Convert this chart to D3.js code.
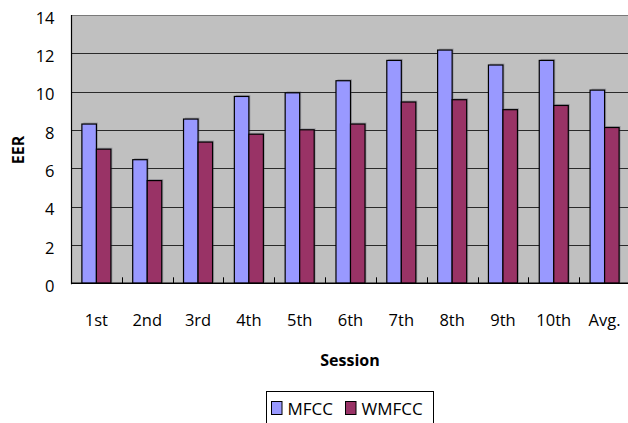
<!DOCTYPE html>
<html>
<head>
<meta charset="utf-8">
<script src="https://cdn.jsdelivr.net/npm/d3@7"></script>
<style>
  html, body { margin: 0; padding: 0; background: #fff; }
  svg { display: block; font-family: "Open Sans", "Noto Sans", sans-serif; }
</style>
</head>
<body>
<svg id="chart" width="628" height="423"></svg>
<script>
// EER per session for the two feature sets
const sessions = ["1st", "2nd", "3rd", "4th", "5th", "6th", "7th", "8th", "9th", "10th", "Avg."];
const mfcc  = [8.31, 6.45, 8.57, 9.75, 9.94, 10.57, 11.63, 12.17, 11.39, 11.63, 10.08];
const wmfcc = [7.0, 5.36, 7.37, 7.78, 8.01, 8.31, 9.46, 9.58, 9.06, 9.28, 8.13];
const seriesNames = ["MFCC", "WMFCC"];
const seriesColors = ["#9999FF", "#993366"];
const yTicks = [0, 2, 4, 6, 8, 10, 12, 14];

const svg = d3.select("#chart");
const plot = { left: 71, top: 15, right: 630, bottom: 283.3 };

const x = d3.scaleBand().domain(sessions).range([plot.left, plot.right]).padding(0);
const y = d3.scaleLinear().domain([0, 14]).range([plot.bottom, plot.top]);

// bar width with an Excel-style 150% gap between groups
const barW = x.bandwidth() / 3.5;
const groupOffset = barW * 0.75;

// plot area background
svg.append("rect")
  .attr("x", plot.left).attr("y", plot.top)
  .attr("width", plot.right - plot.left).attr("height", plot.bottom - plot.top)
  .attr("fill", "#C0C0C0");

// horizontal gridlines
svg.append("g").selectAll("line")
  .data(yTicks.filter(d => d > 0))
  .join("line")
  .attr("x1", plot.left).attr("x2", plot.right)
  .attr("y1", d => Math.round(y(d)) + 0.5).attr("y2", d => Math.round(y(d)) + 0.5)
  .attr("stroke", d => d === 14 ? "#7a7a7a" : "#2a2a2a")
  .attr("stroke-width", 1);

// bars
const rows = sessions.map((s, i) => ({ s, vals: [mfcc[i], wmfcc[i]] }));
const groups = svg.append("g").selectAll("g")
  .data(rows)
  .join("g")
  .attr("transform", d => `translate(${x(d.s) + groupOffset},0)`);

// faint drop shadow behind each bar
groups.selectAll("rect.shadow")
  .data(d => d.vals.map((v, k) => ({ v, k })))
  .join("rect")
  .attr("class", "shadow")
  .attr("x", d => d.k * barW + 1.5)
  .attr("y", d => y(d.v) - 1.5)
  .attr("width", barW)
  .attr("height", d => plot.bottom - y(d.v))
  .attr("fill", "rgba(70,70,90,0.3)");

groups.selectAll("rect.bar")
  .data(d => d.vals.map((v, k) => ({ v, k })))
  .join("rect")
  .attr("class", "bar")
  .attr("x", d => d.k * barW)
  .attr("y", d => y(d.v))
  .attr("width", barW)
  .attr("height", d => plot.bottom - y(d.v))
  .attr("fill", d => seriesColors[d.k])
  .attr("stroke", "#000")
  .attr("stroke-width", 1.2);

// category boundary tick marks (pointing up into the plot)
const bounds = sessions.slice(1).map(s => x(s));
svg.append("g").selectAll("line")
  .data(bounds)
  .join("line")
  .attr("x1", d => Math.round(d) + 0.5).attr("x2", d => Math.round(d) + 0.5)
  .attr("y1", plot.bottom).attr("y2", plot.bottom - 6)
  .attr("stroke", "#000");

// axes lines
svg.append("line")
  .attr("x1", plot.left + 0.5).attr("x2", plot.left + 0.5)
  .attr("y1", plot.top).attr("y2", plot.bottom + 1)
  .attr("stroke", "#000").attr("stroke-width", 1.2);
svg.append("line")
  .attr("x1", plot.left).attr("x2", plot.right)
  .attr("y1", plot.bottom).attr("y2", plot.bottom)
  .attr("stroke", "#000").attr("stroke-width", 1.6);

// y axis labels
const yAxis = svg.append("g")
  .attr("transform", `translate(${plot.left},0)`)
  .call(d3.axisLeft(y).tickValues(yTicks).tickSize(0).tickPadding(16.5).tickFormat(d3.format("d")));
yAxis.select(".domain").remove();
yAxis.selectAll("text")
  .attr("font-family", "'Open Sans', sans-serif")
  .attr("font-size", 16.5)
  .attr("fill", "#000")
  .attr("dy", "0.5em");

// x axis labels
const xAxis = svg.append("g")
  .attr("transform", `translate(0,${plot.bottom})`)
  .call(d3.axisBottom(x).tickSize(0).tickPadding(30.5));
xAxis.select(".domain").remove();
xAxis.selectAll("text")
  .attr("font-family", "'Open Sans', sans-serif")
  .attr("font-size", 16.5)
  .attr("fill", "#000");

// axis titles
svg.append("text")
  .attr("x", 350).attr("y", 365.7)
  .attr("text-anchor", "middle")
  .attr("font-weight", "bold")
  .attr("font-size", 16)
  .text("Session");

svg.append("text")
  .attr("transform", "translate(23.5,150) rotate(-90)")
  .attr("text-anchor", "middle")
  .attr("font-weight", "bold")
  .attr("font-size", 16)
  .text("EER");

// legend
const legend = svg.append("g");
legend.append("rect")
  .attr("x", 266.5).attr("y", 391.5)
  .attr("width", 167).attr("height", 35)
  .attr("fill", "#fff").attr("stroke", "#000");
const legendX = [271, 345];
const items = legend.selectAll("g.item")
  .data(seriesNames)
  .join("g")
  .attr("class", "item")
  .attr("transform", (d, i) => `translate(${legendX[i]},401)`);
items.append("rect")
  .attr("x", 0.5).attr("y", 0.5)
  .attr("width", 10.5).attr("height", 13)
  .attr("fill", (d, i) => seriesColors[i])
  .attr("stroke", "#000");
items.append("text")
  .attr("x", 16.5).attr("y", 14.3)
  .attr("font-size", 17)
  .text(d => d);
</script>
</body>
</html>
